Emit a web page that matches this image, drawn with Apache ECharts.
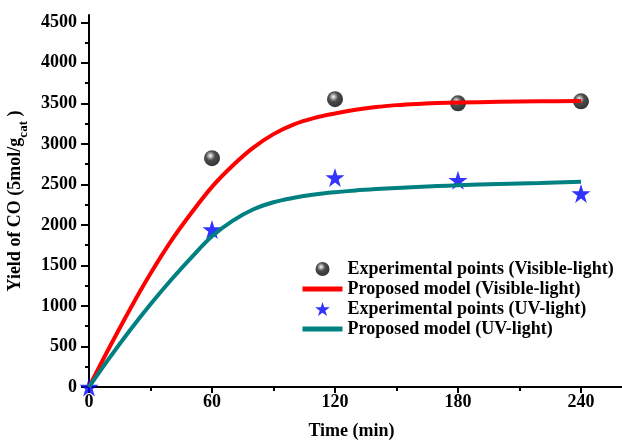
<!DOCTYPE html>
<html>
<head>
<meta charset="utf-8">
<script src="https://cdn.jsdelivr.net/npm/echarts@6/dist/echarts.min.js"></script>
<style>html,body{margin:0;padding:0;background:#fff}#c{width:622px;height:440px}</style>
</head>
<body>
<div id="c"></div>
<script>
// ---- data ----
var expVisible = [[60, 2824], [120, 3551], [180, 3500], [240, 3525]];
var expUV = [[0, 0], [60, 1944], [120, 2586], [180, 2552], [240, 2388]];
var modelTime = [0, 10, 20, 30, 40, 50, 60, 70, 80, 90, 100, 110, 120, 130, 140, 150, 160, 170, 180, 200, 220, 240];
var modelVisible = [0, 490, 960, 1400, 1800, 2150, 2470, 2730, 2950, 3120, 3240, 3320, 3375, 3420, 3455, 3478, 3493, 3503, 3510, 3519, 3525, 3530];
var modelUV = [0, 360, 700, 1020, 1320, 1600, 1860, 2050, 2190, 2280, 2335, 2375, 2403, 2425, 2442, 2456, 2468, 2479, 2489, 2505, 2518, 2531];
var yTicks = [0, 500, 1000, 1500, 2000, 2500, 3000, 3500, 4000, 4500];
var yMinorTicks = [250, 750, 1250, 1750, 2250, 2750, 3250, 3750, 4250];
var xTicks = [0, 60, 120, 180, 240];
var names = ['Experimental points (Visible-light)', 'Proposed model (Visible-light)', 'Experimental points (UV-light)', 'Proposed model (UV-light)'];

function pairs(xs, ys) { return xs.map(function (x, i) { return [x, ys[i]]; }); }

var FONT = 'Liberation Serif';
var starPath = 'path://M50,0 L61.2,34.5 L97.6,34.5 L68.2,55.9 L79.4,90.5 L50,69.1 L20.6,90.5 L31.8,55.9 L2.4,34.5 L38.8,34.5 Z';
var ball = {
  type: 'radial', x: 0.4, y: 0.35, r: 0.65,
  colorStops: [
    { offset: 0, color: '#ffffff' },
    { offset: 0.15, color: '#b0b0b0' },
    { offset: 0.45, color: '#202020' },
    { offset: 1, color: '#000000' }
  ]
};

var chart = echarts.init(document.getElementById('c'), null, { renderer: 'canvas' });
var labelStyle = { fontFamily: FONT, fontWeight: 'bold', fontSize: 18, color: '#000', formatter: function (v) { return String(v); } };

chart.setOption({
  animation: false,
  backgroundColor: '#fff',
  grid: { left: 89, top: 15, width: 615, height: 372, containLabel: false, outerBoundsMode: 'none' },
  legend: {
    orient: 'vertical', left: 300, top: 260, padding: 0,
    itemWidth: 40, itemHeight: 14, itemGap: 2,
    textStyle: { fontFamily: FONT, fontWeight: 'bold', fontSize: 18, lineHeight: 14, color: '#000' },
    data: [
      { name: names[0] },
      { name: names[1], itemStyle: { opacity: 0 }, lineStyle: { width: 5 } },
      { name: names[2] },
      { name: names[3], itemStyle: { opacity: 0 }, lineStyle: { width: 5 } }
    ]
  },
  xAxis: [{
    type: 'value', min: 0, max: 300, interval: 60, position: 'bottom',
    name: 'Time (min)', nameLocation: 'middle', nameGap: 35,
    nameTextStyle: { fontFamily: FONT, fontWeight: 'bold', fontSize: 18, color: '#000', padding: [0, 90, 0, 0] },
    axisLine: { lineStyle: { color: '#000', width: 2 } },
    axisTick: { inside: false, length: 6, lineStyle: { color: '#000', width: 2 } },
    minorTick: { show: true, splitNumber: 2, length: 4, lineStyle: { color: '#000', width: 2 } },
    axisLabel: Object.assign({ margin: 6, showMaxLabel: false }, labelStyle),
    splitLine: { show: false }
  }, {
    type: 'value', min: 0, max: 300, interval: 60, position: 'top',
    axisLine: { lineStyle: { color: '#000', width: 2 } },
    axisTick: { inside: true, length: 4, lineStyle: { color: '#000', width: 2 } },
    axisLabel: { show: false },
    splitLine: { show: false }
  }],
  yAxis: [{
    type: 'value', min: 0, max: 4590, position: 'left',
    name: '{a|Yield of CO (5mol/g}{s|cat}{a| )}', nameLocation: 'middle', nameGap: 41, nameRotate: 90,
    nameTextStyle: {
      rich: {
        a: { fontFamily: FONT, fontWeight: 'bold', fontSize: 18, color: '#000', lineHeight: 30, verticalAlign: 'middle' },
        s: { fontFamily: FONT, fontWeight: 'bold', fontSize: 13, color: '#000', lineHeight: 13, verticalAlign: 'bottom' }
      }
    },
    axisLine: { lineStyle: { color: '#000', width: 2 } },
    axisTick: { length: 8, lineStyle: { color: '#000', width: 2 }, customValues: yTicks },
    axisLabel: Object.assign({ margin: 12, customValues: yTicks }, labelStyle),
    splitLine: { show: false }
  }, {
    type: 'value', min: 0, max: 4590, position: 'left',
    axisLine: { show: false },
    axisTick: { length: 4, lineStyle: { color: '#000', width: 2 }, customValues: yMinorTicks },
    axisLabel: { show: false, customValues: yMinorTicks },
    splitLine: { show: false }
  }],
  series: [{
    name: names[0], type: 'scatter', xAxisIndex: 0, yAxisIndex: 0, clip: true,
    symbol: 'circle', symbolSize: 16, data: expVisible,
    itemStyle: { color: ball }, z: 3
  }, {
    name: names[1], type: 'line', xAxisIndex: 0, yAxisIndex: 0,
    data: pairs(modelTime, modelVisible), smooth: 0.35, symbol: 'none', showSymbol: false,
    lineStyle: { color: '#ff0000', width: 4 }, itemStyle: { color: '#ff0000' }, z: 4
  }, {
    name: names[2], type: 'scatter', xAxisIndex: 0, yAxisIndex: 0, clip: true,
    symbol: starPath, symbolSize: 19, data: expUV,
    itemStyle: { color: '#0000ff' }, z: 3
  }, {
    name: names[3], type: 'line', xAxisIndex: 0, yAxisIndex: 0,
    data: pairs(modelTime, modelUV), smooth: 0.35, symbol: 'none', showSymbol: false,
    lineStyle: { color: '#008080', width: 4 }, itemStyle: { color: '#008080' }, z: 4
  }]
});
</script>
</body>
</html>
